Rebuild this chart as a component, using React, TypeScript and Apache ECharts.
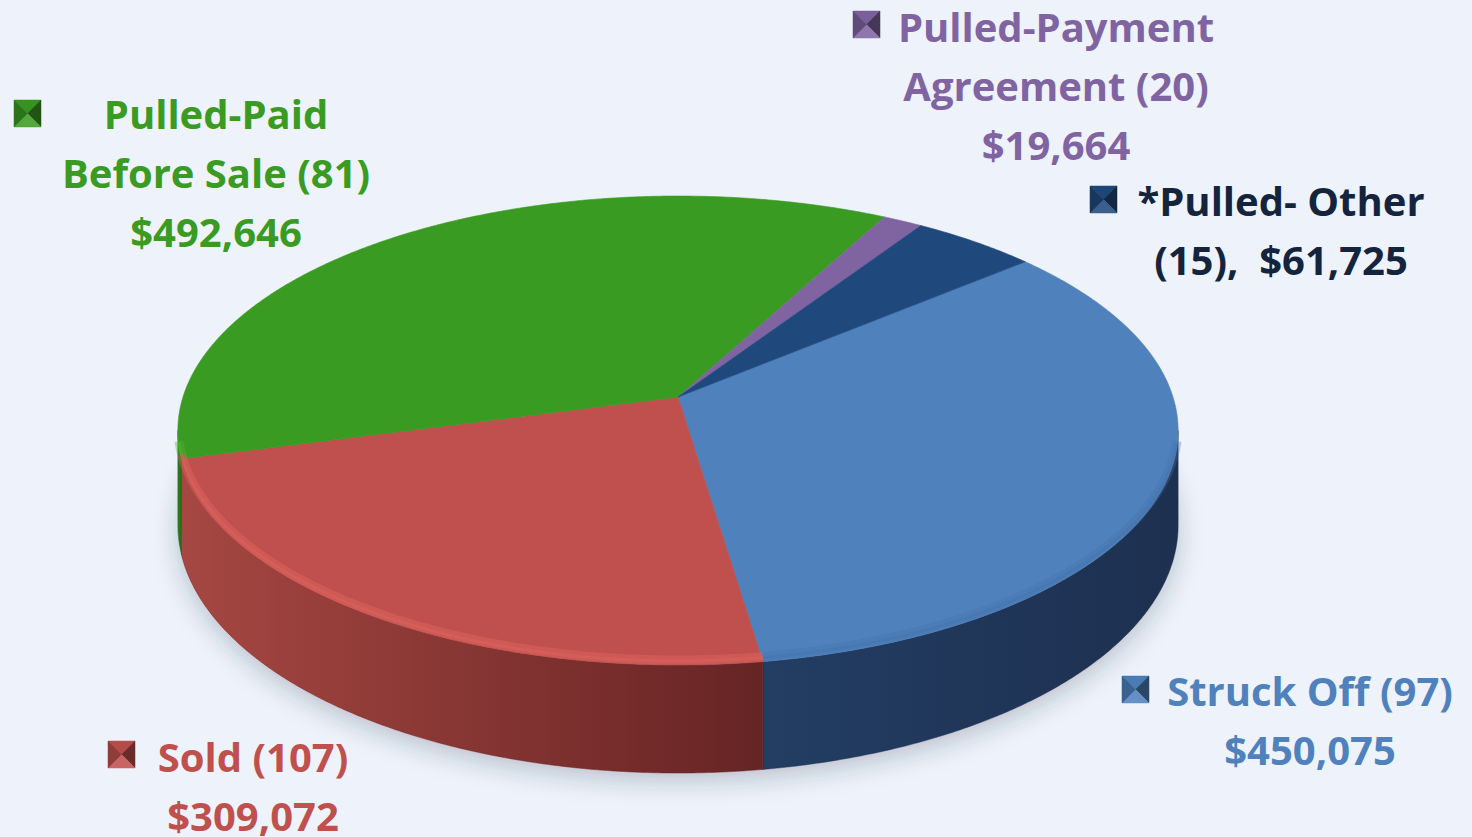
import React, { useEffect, useRef } from "react";
import * as echarts from "echarts";

// ---- data ----
const categories = [
  "Struck Off",
  "Sold",
  "Pulled-Paid\nBefore Sale",
  "Pulled-Payment\nAgreement",
  "*Pulled- Other",
];
const counts = [97, 107, 81, 20, 15];
const amounts = [450075, 309072, 492646, 19664, 61725];
const countSeparators = [" ", " ", " ", " ", "\n"];
const amountSeparators = ["\n", "\n", "\n", "\n", ",  "];

// ---- styles ----
const topColors = ["#4f81bd", "#c0504d", "#3a9b22", "#8064a2", "#1f497d"];
const textColors = ["#4f81bd", "#c0504d", "#3a9b22", "#8064a2", "#14243d"];
const wallLeftColors = ["#233d63", "#a64742", "#2f801b", "#6a5088", "#1a3a62"];
const wallRightColors = ["#1d3050", "#662424", "#24661a", "#503d6a", "#162f50"];
const bevelColors = ["rgba(70,115,170,0.35)", "rgba(225,100,95,0.45)", "rgba(80,180,50,0.4)", "rgba(150,120,190,0.4)", "rgba(40,90,150,0.4)"];

// ---- layout ----
const labelAnchors = [
  { x: 1310, y: 690 },
  { x: 253, y: 756 },
  { x: 216, y: 113 },
  { x: 1056, y: 26 },
  { x: 1281, y: 200 },
];
const markerPos = [
  { x: 1122, y: 676 },
  { x: 108, y: 741 },
  { x: 14, y: 100 },
  { x: 853, y: 11 },
  { x: 1090, y: 186 },
];
const MARK = 27;
const LINE_H = 59;
const FONT = 'bold 40px "Open Sans", Lato, sans-serif';

const CX = 678;
const CY = 397;
const RA = 495;
const RB = 229.7;
const K = 0.1429;
const THICK = 92.6;
const START_DEG = 40;

function proj(deg: number, down: number): number[] {
  const t = (deg * Math.PI) / 180;
  const u = Math.cos(t);
  const v = Math.sin(t);
  const s = 1 / (1 + K * v);
  return [CX + RA * u * s, CY - RB * v * s + down * THICK * s];
}

function arc(a0: number, a1: number, down: number): number[][] {
  const n = Math.max(2, Math.ceil(Math.abs(a1 - a0) / 0.5));
  const pts: number[][] = [];
  for (let i = 0; i <= n; i++) pts.push(proj(a0 + ((a1 - a0) * i) / n, down));
  return pts;
}

function shade(hex: string, f: number) {
  const n = parseInt(hex.slice(1), 16);
  const c = [(n >> 16) & 255, (n >> 8) & 255, n & 255].map((x) =>
    f < 0 ? Math.round(x * (1 + f)) : Math.round(x + (255 - x) * f)
  );
  return `rgb(${c[0]},${c[1]},${c[2]})`;
}

function formatMoney(v: number) {
  return "$" + v.toLocaleString("en-US");
}

const SIL = (Math.asin(K) * 180) / Math.PI;
const FRONT_LO = -180 + SIL;
const FRONT_HI = -SIL;

function renderItem(params: any, api: any) {
  const i = params.dataIndex;
  const total = amounts.reduce((a, b) => a + b, 0);
  let before = 0;
  for (let j = 0; j < i; j++) before += amounts[j];
  const val = api.value(0);
  const a0 = START_DEG - (before / total) * 360;
  const a1 = a0 - (val / total) * 360;
  const children: any[] = [];

  if (i === 0) {
    children.push({
      type: "polygon",
      shape: { points: arc(0, 360, 1) },
      style: {
        fill: "#d6dae3",
        shadowBlur: 24,
        shadowColor: "rgba(40,50,70,0.25)",
        shadowOffsetY: 8,
      },
      z2: 0,
    });
  }

  const lo = Math.min(a0, a1);
  const hi = Math.max(a0, a1);
  const walls: number[][] = [];
  for (const shift of [-360, 0, 360]) {
    const l = Math.max(lo, FRONT_LO + shift);
    const h = Math.min(hi, FRONT_HI + shift);
    if (h > l) walls.push([l, h]);
  }
  walls.forEach(([l, h]) => {
    const top = arc(h, l, 0);
    const bottom = arc(l, h, 1);
    children.push({
      type: "polygon",
      shape: { points: top.concat(bottom) },
      style: {
        fill: new echarts.graphic.LinearGradient(0, 0, 1, 0, [
          { offset: 0, color: wallLeftColors[i] },
          { offset: 1, color: wallRightColors[i] },
        ]),
        stroke: wallRightColors[i],
        lineWidth: 0.5,
      },
      z2: 1,
    });
  });

  const topPts = [[CX, CY]].concat(arc(a0, a1, 0));
  children.push({
    type: "polygon",
    shape: { points: topPts },
    style: { fill: topColors[i], stroke: topColors[i], lineWidth: 0.6 },
    z2: 2,
  });

  walls.forEach(([l, h]) => {
    const bl = Math.max(l, -168);
    const bh = Math.min(h, -12);
    if (bh <= bl) return;
    const edge = arc(bh, bl, 0).map((p) => [p[0], p[1] - 5]);
    children.push({
      type: "polyline",
      shape: { points: edge },
      style: { stroke: bevelColors[i], lineWidth: 9, fill: "none", lineCap: "butt" },
      z2: 3,
    });
    const edge2 = arc(bh, bl, 0).map((p) => [p[0], p[1] - 4]);
    children.push({
      type: "polyline",
      shape: { points: edge2 },
      style: { stroke: bevelColors[i], lineWidth: 3, fill: "none", lineCap: "butt" },
      z2: 3,
    });
  });

  return { type: "group", children };
}

function buildGraphics() {
  const els: any[] = [];
  categories.forEach((name, i) => {
    const text =
      name + countSeparators[i] + "(" + counts[i] + ")" + amountSeparators[i] + formatMoney(amounts[i]);
    const lines = text.split("\n");
    lines.forEach((line, li) => {
      els.push({
        type: "text",
        x: labelAnchors[i].x,
        y: labelAnchors[i].y + li * LINE_H,
        style: {
          text: line,
          fill: textColors[i],
          font: FONT,
          textAlign: "center",
          textVerticalAlign: "middle",
          verticalAlign: "middle",
        },
        z: 10,
      });
    });
    const { x, y } = markerPos[i];
    const c = [x + MARK / 2, y + MARK / 2];
    const base = topColors[i];
    const tris = [
      { pts: [[x, y], [x + MARK, y], c], col: shade(base, -0.05) },
      { pts: [[x + MARK, y], [x + MARK, y + MARK], c], col: shade(base, -0.45) },
      { pts: [[x, y + MARK], [x + MARK, y + MARK], c], col: shade(base, 0.12) },
      { pts: [[x, y], [x, y + MARK], c], col: shade(base, -0.25) },
    ];
    tris.forEach((t) =>
      els.push({
        type: "polygon",
        shape: { points: t.pts },
        style: { fill: t.col, stroke: t.col, lineWidth: 0.5 },
        z: 10,
      })
    );
  });
  return els;
}

export default function App() {
  const ref = useRef<HTMLDivElement>(null);
  useEffect(() => {
    const chart = echarts.init(ref.current!, undefined, { renderer: "svg" });
    chart.setOption({
      animation: false,
      backgroundColor: "#eef2fa",
      series: [
        {
          type: "custom",
          coordinateSystem: "none",
          silent: true,
          data: amounts.map((v, i) => ({ value: v, name: categories[i] })),
          renderItem,
        },
      ],
      graphic: buildGraphics(),
    });
    return () => chart.dispose();
  }, []);
  return (
    <div
      ref={ref}
      style={{ position: "fixed", left: 0, top: 0, width: 1472, height: 837 }}
    />
  );
}
